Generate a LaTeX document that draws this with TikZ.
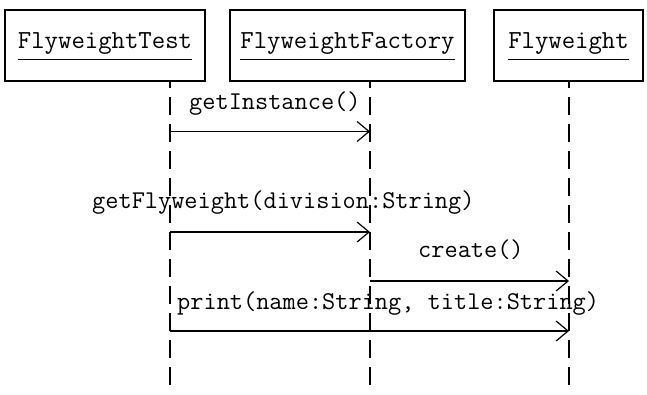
\documentclass[tikz,border=0pt]{standalone}
\usepackage{fontspec}
\usetikzlibrary{arrows.meta,positioning}

\begin{document}
\begin{tikzpicture}[x=1pt,y=-1pt,
  obj/.style={draw,line width=1.2pt,minimum height=71pt,inner sep=0pt},
  objname/.style={font=\ttfamily\fontsize{26}{30}\selectfont,inner sep=0pt,
                  text depth=11pt,anchor=base},
  life/.style={line width=1.2pt,dash pattern=on 18pt off 9pt},
  msg/.style={line width=1.2pt,-{Straight Barb[length=12pt,width=20pt]}},
  lbl/.style={font=\ttfamily\fontsize{25.6}{30}\selectfont,inner sep=0pt,
              anchor=base west}
]
  \useasboundingbox (0,0) rectangle (647,394);

  % ---- Objects ------------------------------------------------
  \node[obj,minimum width=200pt] (test) at (105,45.5) {};
  \node[obj,minimum width=235pt] (factory) at (347.5,45.5) {};
  \node[obj,minimum width=149pt] (fly) at (568.5,45.5) {};

  \node[objname] (testname) at ([yshift=-2.5pt]test.center) {FlyweightTest};
  \node[objname] (factoryname) at ([yshift=-2.5pt]factory.center) {FlyweightFactory};
  \node[objname] (flyname) at ([yshift=-2.5pt]fly.center) {Flyweight};
  \draw[line width=1.2pt] (testname.south west) -- (testname.south east);
  \draw[line width=1.2pt] (factoryname.south west) -- (factoryname.south east);
  \draw[line width=1.2pt] (flyname.south west) -- (flyname.south east);

  % ---- Lifelines ----------------------------------------------
  \coordinate (testend) at (170,385);
  \coordinate (factoryend) at (370,385);
  \coordinate (flyend) at (569,385);
  \draw[life] (testend) -- (testend |- test.south);
  \draw[life] (factoryend) -- (factoryend |- factory.south);
  \draw[life] (flyend) -- (flyend |- fly.south);

  % ---- Messages -----------------------------------------------
  \draw[msg] (testend |- 0,131.5) -- (factoryend |- 0,131.5);
  \node[lbl] (m1) at (189,109) {getInstance()};

  \draw[msg] (testend |- 0,232) -- (factoryend |- 0,232);
  \node[lbl] (m2) at (92,208) {getFlyweight(division:String)};

  \draw[msg] (factoryend |- 0,281) -- (flyend |- 0,281);
  \node[lbl] (m3) at (418,257) {create()};

  \draw[msg] (testend |- 0,331) -- (flyend |- 0,331);
  \node[lbl] (m4) at (177,309) {print(name:String, title:String)};

\end{tikzpicture}
\end{document}
